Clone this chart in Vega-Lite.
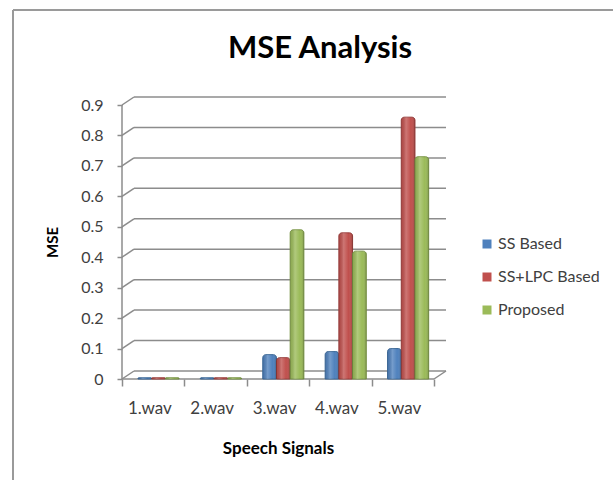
{
  "$schema": "https://vega.github.io/schema/vega-lite/v6.json",
  "width": 600,
  "height": 470,
  "autosize": "none",
  "padding": {"left": 13, "top": 10, "right": 0, "bottom": 0},
  "background": "#ffffff",
  "title": {
    "text": "MSE Analysis",
    "fontSize": 31,
    "fontWeight": "bold",
    "color": "#000000",
    "anchor": "middle",
    "frame": "group",
    "baseline": "alphabetic",
    "offset": -79,
    "dx": 7
  },
  "datasets": {
    "mse": [
      {"signal": "1.wav", "method": "SS Based", "mse": 0.004},
      {"signal": "1.wav", "method": "SS+LPC Based", "mse": 0.004},
      {"signal": "1.wav", "method": "Proposed", "mse": 0.004},
      {"signal": "2.wav", "method": "SS Based", "mse": 0.004},
      {"signal": "2.wav", "method": "SS+LPC Based", "mse": 0.004},
      {"signal": "2.wav", "method": "Proposed", "mse": 0.004},
      {"signal": "3.wav", "method": "SS Based", "mse": 0.08},
      {"signal": "3.wav", "method": "SS+LPC Based", "mse": 0.07},
      {"signal": "3.wav", "method": "Proposed", "mse": 0.49},
      {"signal": "4.wav", "method": "SS Based", "mse": 0.09},
      {"signal": "4.wav", "method": "SS+LPC Based", "mse": 0.48},
      {"signal": "4.wav", "method": "Proposed", "mse": 0.42},
      {"signal": "5.wav", "method": "SS Based", "mse": 0.1},
      {"signal": "5.wav", "method": "SS+LPC Based", "mse": 0.86},
      {"signal": "5.wav", "method": "Proposed", "mse": 0.73}
    ],
    "grid": [
      {"v": 0, "first": "1.wav", "last": "5.wav"},
      {"v": 0.1, "first": "1.wav", "last": "5.wav"},
      {"v": 0.2, "first": "1.wav", "last": "5.wav"},
      {"v": 0.3, "first": "1.wav", "last": "5.wav"},
      {"v": 0.4, "first": "1.wav", "last": "5.wav"},
      {"v": 0.5, "first": "1.wav", "last": "5.wav"},
      {"v": 0.6, "first": "1.wav", "last": "5.wav"},
      {"v": 0.7, "first": "1.wav", "last": "5.wav"},
      {"v": 0.8, "first": "1.wav", "last": "5.wav"},
      {"v": 0.9, "first": "1.wav", "last": "5.wav"}
    ],
    "floor": [
      {"v": 0, "top": 0.9, "first": "1.wav", "last": "5.wav"}
    ]
  },
  "layer": [
    {
      "data": {"name": "grid"},
      "mark": {"type": "rule", "stroke": "#8c8c8c", "strokeWidth": 1.5, "xOffset": 12, "x2Offset": 12, "yOffset": -8},
      "encoding": {
        "x": {"field": "first", "type": "nominal", "bandPosition": 0},
        "x2": {"field": "last", "bandPosition": 1},
        "y": {"field": "v", "type": "quantitative"}
      }
    },
    {
      "data": {"name": "grid"},
      "mark": {"type": "rule", "stroke": "#8c8c8c", "strokeWidth": 1.5, "x2Offset": 12, "y2Offset": -8},
      "encoding": {
        "x": {"field": "first", "type": "nominal", "bandPosition": 0},
        "x2": {"field": "first", "bandPosition": 0},
        "y": {"field": "v", "type": "quantitative"},
        "y2": {"field": "v"}
      }
    },
    {
      "data": {"name": "floor"},
      "mark": {"type": "rule", "stroke": "#8c8c8c", "strokeWidth": 1.5, "x2Offset": 12, "y2Offset": -8},
      "encoding": {
        "x": {"field": "last", "type": "nominal", "bandPosition": 1},
        "x2": {"field": "last", "bandPosition": 1},
        "y": {"field": "v", "type": "quantitative"},
        "y2": {"field": "v"}
      }
    },
    {
      "data": {"name": "floor"},
      "mark": {"type": "rule", "stroke": "#8c8c8c", "strokeWidth": 1.5},
      "encoding": {
        "x": {"field": "first", "type": "nominal", "bandPosition": 0},
        "x2": {"field": "last", "bandPosition": 1},
        "y": {"field": "v", "type": "quantitative"}
      }
    },
    {
      "data": {"name": "mse"},
      "mark": {"type": "bar", "cornerRadiusTopLeft": 3, "cornerRadiusTopRight": 3, "strokeWidth": 1},
      "encoding": {
        "x": {
          "field": "signal",
          "type": "nominal",
          "scale": {
            "domain": ["1.wav", "2.wav", "3.wav", "4.wav", "5.wav"],
            "range": [109, 421],
            "paddingInner": 0,
            "paddingOuter": 0
          },
          "axis": {
            "title": "Speech Signals",
            "orient": "bottom",
            "offset": -101,
            "domain": false,
            "tickBand": "extent",
            "tickSize": 7,
            "tickColor": "#8c8c8c",
            "tickWidth": 1.5,
            "labelAngle": 0,
            "labelOffset": 18,
            "labelPadding": 22,
            "labelFontSize": 17,
            "labelColor": "#404040",
            "titleX": 265,
            "titlePadding": 24,
            "titleFontSize": 17,
            "titleFontWeight": "bold",
            "titleColor": "#000000"
          }
        },
        "xOffset": {
          "field": "method",
          "type": "nominal",
          "scale": {
            "domain": ["SS Based", "SS+LPC Based", "Proposed"],
            "paddingInner": 0,
            "paddingOuter": 0.777,
            "align": 0.75
          }
        },
        "y": {
          "field": "mse",
          "type": "quantitative",
          "stack": null,
          "scale": {"domain": [0, 0.9], "range": [369, 95], "nice": false},
          "axis": {
            "title": "MSE",
            "orient": "left",
            "offset": -109,
            "values": [0, 0.1, 0.2, 0.3, 0.4, 0.5, 0.6, 0.7, 0.8, 0.9],
            "format": ".1~f",
            "domain": false,
            "grid": false,
            "tickSize": 5,
            "tickColor": "#8c8c8c",
            "tickWidth": 1.5,
            "labelPadding": 14,
            "labelFontSize": 16,
            "labelColor": "#404040",
            "titleFontSize": 15,
            "titleFontWeight": "bold",
            "titleColor": "#000000",
            "titlePadding": 20
          }
        },
        "color": {
          "field": "method",
          "type": "nominal",
          "scale": {
            "domain": ["SS Based", "SS+LPC Based", "Proposed"],
            "range": ["#4f81bd", "#c0504d", "#9bbb59"]
          },
          "legend": {
            "title": null,
            "orient": "none",
            "legendX": 466,
            "legendY": 226,
            "symbolType": "square",
            "symbolSize": 81,
            "symbolStrokeWidth": 0,
            "labelFontSize": 16,
            "labelColor": "#404040",
            "labelOffset": 3,
            "rowPadding": 17
          }
        },
        "stroke": {
          "field": "method",
          "type": "nominal",
          "scale": {
            "domain": ["SS Based", "SS+LPC Based", "Proposed"],
            "range": ["#3a6796", "#973c3a", "#799446"]
          },
          "legend": null
        }
      }
    },
    {
      "data": {"name": "mse"},
      "mark": {
        "type": "bar",
        "cornerRadiusTopLeft": 3,
        "cornerRadiusTopRight": 3,
        "fill": {
          "gradient": "linear",
          "x1": 0, "y1": 0, "x2": 1, "y2": 0,
          "stops": [
            {"offset": 0, "color": "rgba(0,0,0,0.08)"},
            {"offset": 0.35, "color": "rgba(255,255,255,0.22)"},
            {"offset": 0.7, "color": "rgba(255,255,255,0.0)"},
            {"offset": 1, "color": "rgba(0,0,0,0.18)"}
          ]
        }
      },
      "encoding": {
        "x": {"field": "signal", "type": "nominal"},
        "xOffset": {"field": "method", "type": "nominal"},
        "y": {"field": "mse", "type": "quantitative", "stack": null}
      }
    },
    {
      "data": {"name": "floor"},
      "mark": {"type": "rule", "stroke": "#8c8c8c", "strokeWidth": 1.5},
      "encoding": {
        "x": {"field": "first", "type": "nominal", "bandPosition": 0},
        "y": {"field": "v", "type": "quantitative"},
        "y2": {"field": "top"}
      }
    }
  ],
  "config": {
    "font": "Lato",
    "view": {"stroke": "#9a9a9a", "strokeWidth": 2, "strokeDash": [600, 1070, 470, 0]}
  }
}
